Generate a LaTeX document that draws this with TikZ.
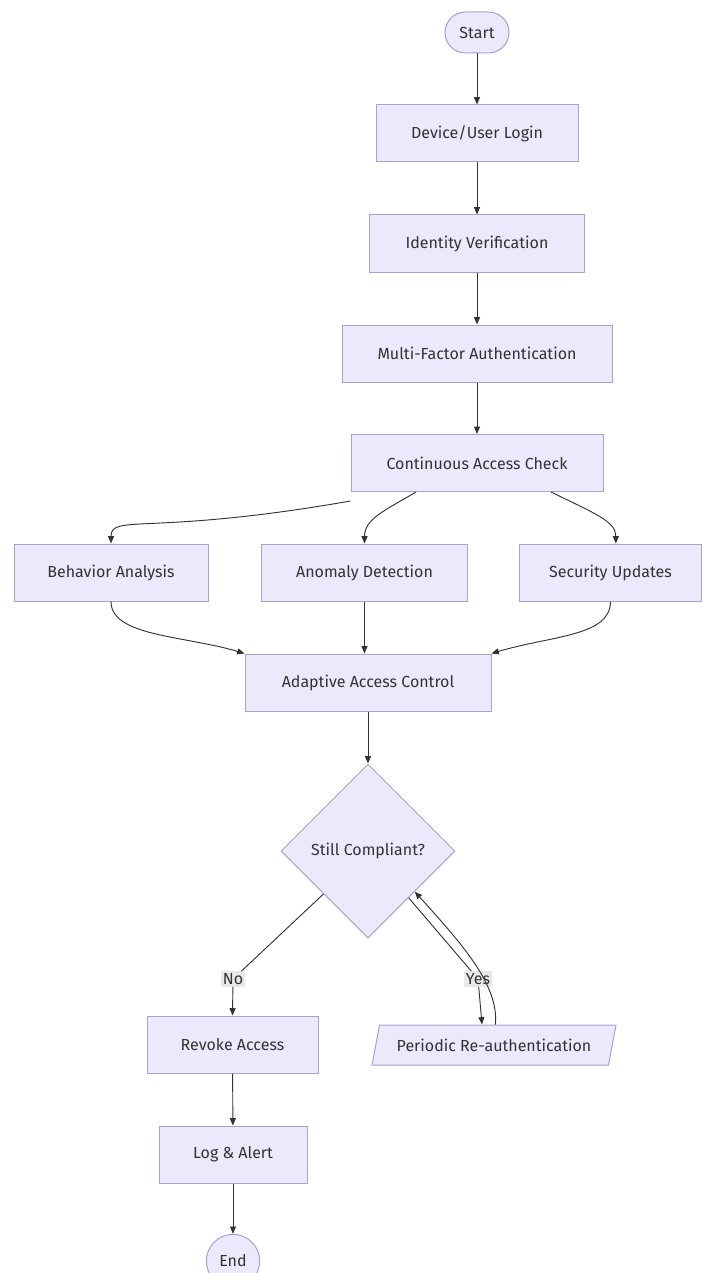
\documentclass[tikz,border=0pt]{standalone}
\usepackage{fontspec}
\setmainfont{Fira Sans}
\usetikzlibrary{arrows.meta,shapes.geometric}
\definecolor{boxfill}{HTML}{EAEAFC}
\definecolor{boxline}{HTML}{A5A3CC}
\definecolor{linkcol}{HTML}{333333}
\definecolor{lblfill}{HTML}{E8E8E8}

\begin{document}
\begin{tikzpicture}[x=0.75pt,y=0.75pt,yscale=-1,
		font=\fontsize{12}{14}\selectfont, text=linkcol,
		box/.style={draw=boxline,fill=boxfill,line width=0.75pt,minimum height=42.75pt,inner sep=2pt},
		term/.style={box,minimum height=30.75pt,rounded corners=15.3pt},
		link/.style={draw=linkcol,line width=0.7pt,-{Triangle[length=5.5pt,width=4.5pt]}},
		lbl/.style={fill=lblfill,inner sep=1.5pt}]
	\useasboundingbox (0,0) rectangle (702,1273);

	%Shape: Terminal
	\node[term, minimum width=48pt] (start) at (477,32.5) {Start};
	%Shape: Rectangle
	\node[box, minimum width=151.5pt] (login) at (477,133.5) {Device/User Login};
	\node[box, minimum width=161pt] (idver) at (477,243.5) {Identity Verification};
	\node[box, minimum width=202.5pt] (mfa) at (477,353.5) {Multi-Factor Authentication};
	\node[box, minimum width=189pt] (cacheck) at (477,463) {Continuous Access Check};
	\node[box, minimum width=145.5pt] (behav) at (111,572.5) {Behavior Analysis};
	\node[box, minimum width=155pt] (anomaly) at (364.5,572.5) {Anomaly Detection};
	\node[box, minimum width=137pt] (secupd) at (610.5,572.5) {Security Updates};
	\node[box, minimum width=184.5pt] (adaptive) at (368,682.5) {Adaptive Access Control};
	%Shape: Diamond
	\node[box, shape=diamond, aspect=1, minimum width=130.5pt, minimum height=130.5pt] (compliant) at (368,851) {Still Compliant?};
	\node[box, minimum width=128.25pt] (revoke) at (232.5,1044.5) {Revoke Access};
	\node[box, minimum width=111pt] (logalert) at (233,1154.5) {Log \& Alert};
	%Shape: Circle
	\node[box, circle, minimum size=40pt] (end) at (233,1261) {End};
	%Shape: Parallelogram
	\node[box, shape=trapezium, trapezium left angle=70, trapezium right angle=110, trapezium stretches=true, minimum width=183pt, minimum height=30pt] (reauth) at (494,1045) {Periodic Re-authentication};

	% Text Node
	\node[lbl] (nolbl) at (233,979) {No};
	\node[lbl] (yeslbl) at (478,979) {Yes};

	%Straight Lines
	\draw[link] (start) -- (login);
	\draw[link] (login) -- (idver);
	\draw[link] (idver) -- (mfa);
	\draw[link] (mfa) -- (cacheck);
	\draw[link] ([yshift=6.75pt]cacheck.south west) .. controls +(-200,35) and +(0,-30) .. (behav.north);
	\draw[link] ([xshift=-45.75pt]cacheck.south) .. controls +(-30,18) and +(0,-25) .. (anomaly.north);
	\draw[link] ([xshift=55.5pt]cacheck.south) .. controls +(45,22) and +(0,-22) .. ([xshift=4pt]secupd.north);
	\draw[link] (behav.south) .. controls +(0,35) and +(-60,-18) .. (adaptive.north west);
	\draw[link] (anomaly.south) -- (anomaly.south |- adaptive.north);
	\draw[link] (secupd.south) .. controls +(0,35) and +(60,-18) .. (adaptive.north east);
	\draw[link] (adaptive) -- (compliant);
	\draw[link] (compliant.224) -- (nolbl) -- (revoke.north);
	\draw[link] (compliant.-49) -- (yeslbl) -- ([xshift=-9pt]reauth.north);
	\draw[link] ([xshift=1pt]reauth.north) .. controls +(4,-40) and +(45,50) .. (compliant.-41);
	\draw[link] (revoke) -- (logalert);
	\draw[link] (logalert) -- (end);
\end{tikzpicture}
\end{document}
